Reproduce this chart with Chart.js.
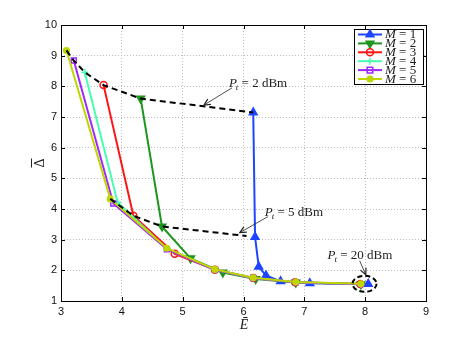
<!DOCTYPE html>
<html><head><meta charset="utf-8">
<script src="https://cdn.jsdelivr.net/npm/chart.js@4/dist/chart.umd.min.js"></script>
<style>html,body{margin:0;padding:0;background:#fff}canvas{display:block}</style>
</head><body>
<canvas id="c" width="471" height="339"></canvas>
<script>
// ---- data ----
const seriesNames = ['1','2','3','4','5','6'];
const m1X = [6.16, 6.19, 6.25, 6.37, 6.61, 7.09, 8.05];
const m1Y = [7.15, 3.09, 2.12, 1.83, 1.64, 1.575, 1.555];
const m2X = [4.31, 4.66, 5.13, 5.66, 6.20, 6.86, 7.93];
const m2Y = [7.60, 3.43, 2.39, 1.93, 1.72, 1.60, 1.55];
const m3X = [3.70, 4.19, 4.87, 5.53, 6.16, 6.85, 7.92];
const m3Y = [8.04, 3.78, 2.54, 2.02, 1.75, 1.61, 1.555];
const m4X = [3.39, 3.93, 4.74, 5.53, 6.16, 6.86, 7.93];
const m4Y = [8.46, 4.22, 2.70, 2.02, 1.75, 1.61, 1.55];
const m5X = [3.21, 3.86, 4.74, 5.53, 6.16, 6.86, 7.93];
const m5Y = [8.84, 4.18, 2.69, 2.02, 1.75, 1.61, 1.55];
const m6X = [3.09, 3.81, 4.74, 5.53, 6.16, 6.86, 7.93];
const m6Y = [9.17, 4.33, 2.72, 2.03, 1.76, 1.62, 1.56];
const pt2X = [3.09, 3.21, 3.39, 3.70, 4.31, 6.16];
const pt2Y = [9.17, 8.84, 8.46, 8.04, 7.60, 7.15];
const pt5X = [3.81, 4.19, 4.66, 6.05];
const pt5Y = [4.33, 3.78, 3.43, 3.12];
const annotLabels = ['2 dBm', '5 dBm', '20 dBm'];
const annotTextX = [5.76, 6.35, 7.38];
const annotTextY = [7.99, 3.78, 2.37];
const arrowFromX = [5.81, 6.40, 7.91];
const arrowFromY = [7.95, 3.75, 2.31];
const arrowToX = [5.35, 5.94, 8.01];
const arrowToY = [7.39, 3.23, 1.86];
const ringX = 7.99, ringY = 1.56;
const xTicks = [3, 4, 5, 6, 7, 8, 9];
const yTicks = [1, 2, 3, 4, 5, 6, 7, 8, 9, 10];

const colors = ['rgb(30,70,255)', 'rgb(30,150,30)', 'rgb(255,20,20)', 'rgb(70,255,175)', 'rgb(160,40,255)', 'rgb(190,215,0)'];
const styles = [
  {ps: 'triangle', r: 4.5, rot: 0, fill: true},
  {ps: 'triangle', r: 4.5, rot: 180, fill: true},
  {ps: 'circle', r: 3.5, rot: 0, fill: false},
  {ps: 'cross', r: 3.5, rot: 0, fill: false},
  {ps: 'rect', r: 3.5, rot: 0, fill: false},
  {ps: 'circle', r: 2.8, rot: 0, fill: true}
];
const xs = [m1X, m2X, m3X, m4X, m5X, m6X];
const ys = [m1Y, m2Y, m3Y, m4Y, m5Y, m6Y];
const pts = (a, b) => a.map((v, i) => ({x: v, y: b[i]}));

const datasets = xs.map((x, i) => ({
  label: 'M = ' + seriesNames[i],
  data: pts(x, ys[i]),
  showLine: true,
  borderColor: colors[i],
  backgroundColor: styles[i].fill ? colors[i] : 'rgba(255,255,255,0)',
  borderWidth: 2,
  pointStyle: styles[i].ps,
  pointRadius: styles[i].r,
  pointRotation: styles[i].rot,
  pointBorderWidth: 1.5,
  order: 7 - i
}));
[[pt2X, pt2Y], [pt5X, pt5Y]].forEach(([a, b]) => datasets.push({
  label: '', data: pts(a, b), showLine: true, borderColor: '#000', borderWidth: 2,
  borderDash: [6, 4], pointRadius: 0, order: 0
}));

function drawMarker(ctx, i, x, y) {
  const s = styles[i], c = colors[i];
  ctx.save();
  ctx.strokeStyle = c; ctx.fillStyle = c; ctx.lineWidth = 1.5; ctx.setLineDash([]);
  ctx.beginPath();
  const r = s.r;
  if (s.ps === 'triangle') {
    const d = s.rot ? -1 : 1;
    ctx.moveTo(x, y - d * r); ctx.lineTo(x + r * 0.87, y + d * r * 0.5); ctx.lineTo(x - r * 0.87, y + d * r * 0.5); ctx.closePath();
    ctx.fill(); ctx.stroke();
  } else if (s.ps === 'circle') {
    ctx.arc(x, y, r, 0, Math.PI * 2);
    if (s.fill) ctx.fill();
    ctx.stroke();
  } else if (s.ps === 'cross') {
    ctx.moveTo(x - r, y); ctx.lineTo(x + r, y); ctx.moveTo(x, y - r); ctx.lineTo(x, y + r); ctx.stroke();
  } else {
    ctx.rect(x - r * 0.8, y - r * 0.8, r * 1.6, r * 1.6); ctx.stroke();
  }
  ctx.restore();
}

function drawPt(ctx, x, y, txt) {
  ctx.save();
  ctx.fillStyle = '#222'; ctx.textBaseline = 'alphabetic'; ctx.textAlign = 'left';
  ctx.font = 'italic 13px "Liberation Serif"';
  ctx.fillText('P', x, y);
  let w = ctx.measureText('P').width;
  ctx.font = 'italic 9px "Liberation Serif"';
  ctx.fillText('t', x + w - 1, y + 3);
  w += ctx.measureText('t').width - 1;
  ctx.font = '13px "Liberation Serif"';
  ctx.fillText(' = ' + txt, x + w, y);
  ctx.restore();
}

function arrow(ctx, x1, y1, x2, y2) {
  ctx.save();
  ctx.strokeStyle = '#222'; ctx.lineWidth = 0.8; ctx.setLineDash([]);
  ctx.beginPath(); ctx.moveTo(x1, y1); ctx.lineTo(x2, y2); ctx.stroke();
  const a = Math.atan2(y2 - y1, x2 - x1), L = 7;
  ctx.lineWidth = 1.2;
  ctx.beginPath();
  ctx.moveTo(x2 - L * Math.cos(a - 0.45), y2 - L * Math.sin(a - 0.45));
  ctx.lineTo(x2, y2);
  ctx.lineTo(x2 - L * Math.cos(a + 0.45), y2 - L * Math.sin(a + 0.45));
  ctx.stroke();
  ctx.restore();
}

const decor = {
  id: 'decor',
  afterDatasetsDraw(chart) {
    const {ctx, chartArea: ca, scales: {x, y}} = chart;
    ctx.save();
    // frame
    ctx.strokeStyle = '#000'; ctx.lineWidth = 1; ctx.setLineDash([]);
    ctx.strokeRect(Math.round(ca.left) + 0.5, Math.round(ca.top) + 0.5, Math.round(ca.right - ca.left), Math.round(ca.bottom - ca.top));
    // inward ticks
    ctx.beginPath();
    xTicks.forEach(v => {
      const px = Math.round(x.getPixelForValue(v)) + 0.5;
      ctx.moveTo(px, ca.bottom); ctx.lineTo(px, ca.bottom - 4);
      ctx.moveTo(px, ca.top); ctx.lineTo(px, ca.top + 4);
    });
    yTicks.forEach(v => {
      const py = Math.round(y.getPixelForValue(v)) + 0.5;
      ctx.moveTo(ca.left, py); ctx.lineTo(ca.left + 4, py);
      ctx.moveTo(ca.right, py); ctx.lineTo(ca.right - 4, py);
    });
    ctx.stroke();
    // ring
    ctx.lineWidth = 2; ctx.setLineDash([5, 3]);
    ctx.beginPath();
    ctx.ellipse(x.getPixelForValue(ringX), y.getPixelForValue(ringY), 12, 8, 0, 0, Math.PI * 2);
    ctx.stroke();
    ctx.setLineDash([]);
    // annotations
    annotLabels.forEach((t, i) => {
      drawPt(ctx, x.getPixelForValue(annotTextX[i]), y.getPixelForValue(annotTextY[i]), t);
      arrow(ctx, x.getPixelForValue(arrowFromX[i]), y.getPixelForValue(arrowFromY[i]),
                 x.getPixelForValue(arrowToX[i]), y.getPixelForValue(arrowToY[i]));
    });
    // legend
    const lx = 354, ly = 29, lw = 69, lh = 55;
    ctx.fillStyle = '#fff'; ctx.fillRect(lx, ly, lw, lh);
    ctx.strokeStyle = '#000'; ctx.lineWidth = 1;
    ctx.strokeRect(lx + 0.5, ly + 0.5, lw, lh);
    seriesNames.forEach((n, i) => {
      const yy = ly + 5.5 + i * 8.9;
      ctx.strokeStyle = colors[i]; ctx.lineWidth = 2;
      ctx.beginPath(); ctx.moveTo(lx + 4, yy); ctx.lineTo(lx + 28, yy); ctx.stroke();
      drawMarker(ctx, i, lx + 16, yy);
      ctx.fillStyle = '#222'; ctx.textBaseline = 'middle'; ctx.textAlign = 'left';
      ctx.font = 'italic 13px "Liberation Serif"';
      ctx.fillText('M', lx + 31, yy + 0.5);
      const w = ctx.measureText('M').width;
      ctx.font = '13px "Liberation Serif"';
      ctx.fillText(' = ' + n, lx + 31 + w, yy + 0.5);
    });
    // axis titles
    ctx.fillStyle = '#222'; ctx.strokeStyle = '#222'; ctx.textAlign = 'center'; ctx.textBaseline = 'middle';
    ctx.font = 'italic 14px "Liberation Serif"';
    ctx.fillText('\u0112', 244, 325);
    ctx.translate(39, 163); ctx.rotate(-Math.PI / 2);
    ctx.font = '14px "Liberation Serif"';
    ctx.fillText('\u0394', 0, 1);
    ctx.lineWidth = 1;
    ctx.beginPath(); ctx.moveTo(-4.5, -7.5); ctx.lineTo(4.5, -7.5); ctx.stroke();
    ctx.restore();
  }
};

new Chart(document.getElementById('c'), {
  type: 'scatter',
  data: {datasets},
  options: {
    responsive: false, animation: false, devicePixelRatio: 1,
    layout: {padding: {top: 25, right: 45, left: 0, bottom: 0}},
    plugins: {legend: {display: false}, tooltip: {enabled: false}},
    scales: {
      x: {
        type: 'linear', min: 3, max: 9,
        afterBuildTicks: s => { s.ticks = xTicks.map(v => ({value: v})); },
        afterFit: s => { s.height = 38; },
        grid: {color: '#bdbdbd', lineWidth: 1, drawTicks: false},
        border: {display: false, dash: [1, 2]},
        ticks: {color: '#111', font: {family: 'Liberation Sans', size: 11}, padding: 4, maxRotation: 0}
      },
      y: {
        type: 'linear', min: 1, max: 10,
        afterBuildTicks: s => { s.ticks = yTicks.map(v => ({value: v})); },
        afterFit: s => { s.width = 61; },
        grid: {color: '#bdbdbd', lineWidth: 1, drawTicks: false},
        border: {display: false, dash: [1, 2]},
        ticks: {color: '#111', font: {family: 'Liberation Sans', size: 11}, padding: 4}
      }
    }
  },
  plugins: [decor]
});
</script>
</body></html>
